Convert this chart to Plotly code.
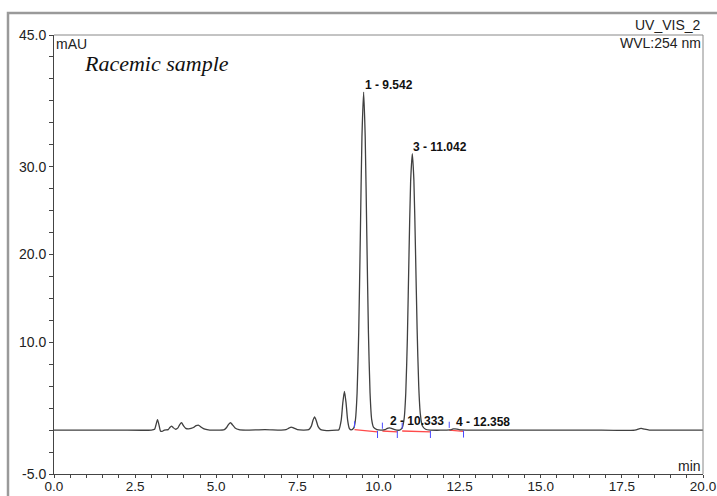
import plotly.graph_objects as go

# Chromatogram trace (time in min, signal in mAU)
time_min = [0.0, 1.0, 2.0, 3.0, 3.10, 3.14, 3.19, 3.24, 3.28, 3.33, 3.40,
            3.52, 3.57, 3.62, 3.67, 3.74, 3.82, 3.87, 3.93, 3.99, 4.06, 4.15,
            4.30, 4.38, 4.46, 4.55, 4.65, 4.80, 5.25, 5.32, 5.38, 5.44, 5.50,
            5.58, 5.70, 5.90, 6.50, 7.00, 7.15, 7.25, 7.31, 7.38, 7.50, 7.70,
            7.85, 7.93, 7.98, 8.03, 8.08, 8.14, 8.22, 8.40, 8.70, 8.78, 8.85,
            8.90, 8.95, 9.00, 9.05, 9.10, 9.16, 9.24, 9.29, 9.34, 9.39, 9.44,
            9.49, 9.542, 9.59, 9.64, 9.69, 9.74, 9.79, 9.85, 9.95, 10.10,
            10.20, 10.27, 10.333, 10.40, 10.50, 10.65, 10.73, 10.79, 10.84,
            10.89, 10.94, 10.99, 11.042, 11.09, 11.14, 11.19, 11.24, 11.29,
            11.35, 11.45, 11.60, 12.20, 12.30, 12.358, 12.42, 12.55, 13.5,
            15.0, 16.5, 17.90, 18.05, 18.10, 18.20, 18.35, 19.0, 20.0]
signal_mau = [0.0, 0.0, 0.0, 0.0, 0.1, 0.55, 1.2, 0.5, -0.1, -0.15, 0.0,
              0.05, 0.3, 0.45, 0.3, 0.1, 0.25, 0.6, 0.85, 0.5, 0.2, 0.15,
              0.3, 0.5, 0.55, 0.3, 0.1, 0.0, 0.05, 0.3, 0.65, 0.85, 0.6,
              0.25, 0.05, 0.0, 0.05, 0.0, 0.05, 0.25, 0.35, 0.25, 0.05, 0.0,
              0.05, 0.45, 1.1, 1.5, 1.1, 0.4, 0.05, -0.05, 0.0, 0.05, 1.1,
              3.1, 4.4, 3.1, 1.1, 0.2, 0.02, 0.26, 1.2, 4.2, 11.1, 22.1,
              33.4, 38.5, 33.4, 22.1, 11.1, 4.2, 1.2, 0.3, 0.05, 0.0,
              0.05, 0.2, 0.25, 0.2, 0.05, 0.0, 0.25, 1.3, 4.2,
              10.5, 20.0, 28.3, 31.5, 28.5, 20.5, 11.5, 5.0, 1.8,
              0.5, 0.1, 0.0, 0.02, 0.13, 0.15, 0.12, 0.02, 0.0,
              0.0, 0.0, 0.0, 0.18, 0.2, 0.1, 0.0, 0.0, 0.0]

# Integrated peaks
peak_labels = ["1 - 9.542", "2 - 10.333", "3 - 11.042", "4 - 12.358"]
peak_rt = [9.542, 10.333, 11.042, 12.358]
peak_height = [38.5, 0.25, 31.5, 0.15]
win_start = [9.26, 10.12, 10.73, 12.18]
win_end = [9.97, 10.58, 11.60, 12.62]
base_start = [0.05, -0.1, -0.1, 0.0]
base_end = [-0.2, -0.2, -0.2, -0.15]

x_tick_vals = [i * 0.5 for i in range(41)]
x_tick_text = [f"{v:.1f}" if abs(v / 2.5 - round(v / 2.5)) < 1e-9 else "" for v in x_tick_vals]
y_tick_vals = [-5 + i * 2.5 for i in range(21)]
y_labelled = [-5.0, 10.0, 20.0, 30.0, 45.0]
y_tick_text = [f"{v:.1f}" if v in y_labelled else "" for v in y_tick_vals]

fig = go.Figure()

# outer panel frame (left and top edges) on a full-page overlay subplot
fig.add_trace(go.Scatter(x=[4, 4, 713], y=[0, 483, 483], mode="lines",
                         xaxis="x2", yaxis="y2",
                         line=dict(color="#9a9a9a", width=2.5), hoverinfo="skip"))

# integration baselines (red)
for s, e, bs, be in zip(win_start, win_end, base_start, base_end):
    fig.add_trace(go.Scatter(x=[s, e], y=[bs, be], mode="lines",
                             line=dict(color="#ff4a4a", width=1.3), hoverinfo="skip"))

fig.add_trace(go.Scatter(x=time_min, y=signal_mau, mode="lines",
                         line=dict(color="#404040", width=1.3, shape="spline", smoothing=0.6),
                         hoverinfo="skip"))

# peak window markers (blue)
for s, e, bs, be in zip(win_start, win_end, base_start, base_end):
    fig.add_trace(go.Scatter(x=[s, s], y=[bs + 0.25, bs + 0.95], mode="lines",
                             line=dict(color="#4a4aff", width=1), hoverinfo="skip"))
    fig.add_trace(go.Scatter(x=[e, e], y=[be + 0.1, be - 0.7], mode="lines",
                             line=dict(color="#4a4aff", width=1), hoverinfo="skip"))

for lab, rt, h in zip(peak_labels, peak_rt, peak_height):
    fig.add_annotation(x=rt, y=h, text=f"<b>{lab}</b>", showarrow=False,
                       xanchor="left", yanchor="bottom", xshift=-1, yshift=-2,
                       font=dict(family="Liberation Sans", size=12, color="#111"))

annos = [
    dict(x=0.0015, y=0.979, text="mAU", xanchor="left", yanchor="middle"),
    dict(x=0.9985, y=0.982, text="WVL:254 nm", xanchor="right", yanchor="middle"),
    dict(x=0.9985, y=1.023, text="UV_VIS_2", xanchor="right", yanchor="middle"),
    dict(x=0.9985, y=0.018, text="min", xanchor="right", yanchor="middle"),
]
for a in annos:
    fig.add_annotation(xref="x domain", yref="y domain", x=a["x"], y=a["y"], text=a["text"],
                       xanchor=a["xanchor"], yanchor=a["yanchor"], showarrow=False,
                       borderpad=0,
                       font=dict(family="Liberation Sans", size=14, color="#222"))

fig.add_annotation(xref="x domain", yref="y domain", x=0.044, y=0.934, text="<i>Racemic sample</i>",
                   xanchor="left", yanchor="middle", showarrow=False, borderpad=0,
                   font=dict(family="Liberation Serif", size=22, color="#111"))

# plot box top/right lines
fig.add_shape(type="line", xref="x domain", yref="y domain", x0=0, x1=1, y0=1, y1=1,
              line=dict(color="#888", width=1), layer="above")
fig.add_shape(type="line", xref="x domain", yref="y domain", x0=1, x1=1, y0=0, y1=1,
              line=dict(color="#888", width=1), layer="above")

fig.update_layout(
    width=717, height=496,
    margin=dict(l=4, r=0, t=9, b=0),
    paper_bgcolor="white", plot_bgcolor="rgba(0,0,0,0)",
    showlegend=False,
    font=dict(family="Liberation Sans", size=14, color="#222"),
    xaxis=dict(range=[0, 20], domain=[50 / 713, 699 / 713], anchor="y",
               tickmode="array", tickvals=x_tick_vals, ticktext=x_tick_text,
               ticks="outside", ticklen=3, tickcolor="#444", showline=True, linecolor="#444",
               linewidth=1, showgrid=False, zeroline=False, automargin=False,
               ticklabelstandoff=-3,
               tickfont=dict(family="Liberation Sans", size=13.5, color="#222")),
    yaxis=dict(range=[-5, 45], domain=[22 / 487, 461 / 487], anchor="x",
               tickmode="array", tickvals=y_tick_vals, ticktext=y_tick_text,
               ticks="outside", ticklen=4, tickcolor="#444", showline=True, linecolor="#444",
               linewidth=1, showgrid=False, zeroline=False, automargin=False,
               tickfont=dict(family="Liberation Sans", size=14, color="#222")),
    xaxis2=dict(range=[0, 713], domain=[0, 1], anchor="y2", visible=False,
                showgrid=False, zeroline=False, fixedrange=True),
    yaxis2=dict(range=[0, 487], domain=[0, 1], anchor="x2", visible=False,
                showgrid=False, zeroline=False, fixedrange=True),
)

fig.write_html("out.html", post_script="document.body.style.margin='0';")
